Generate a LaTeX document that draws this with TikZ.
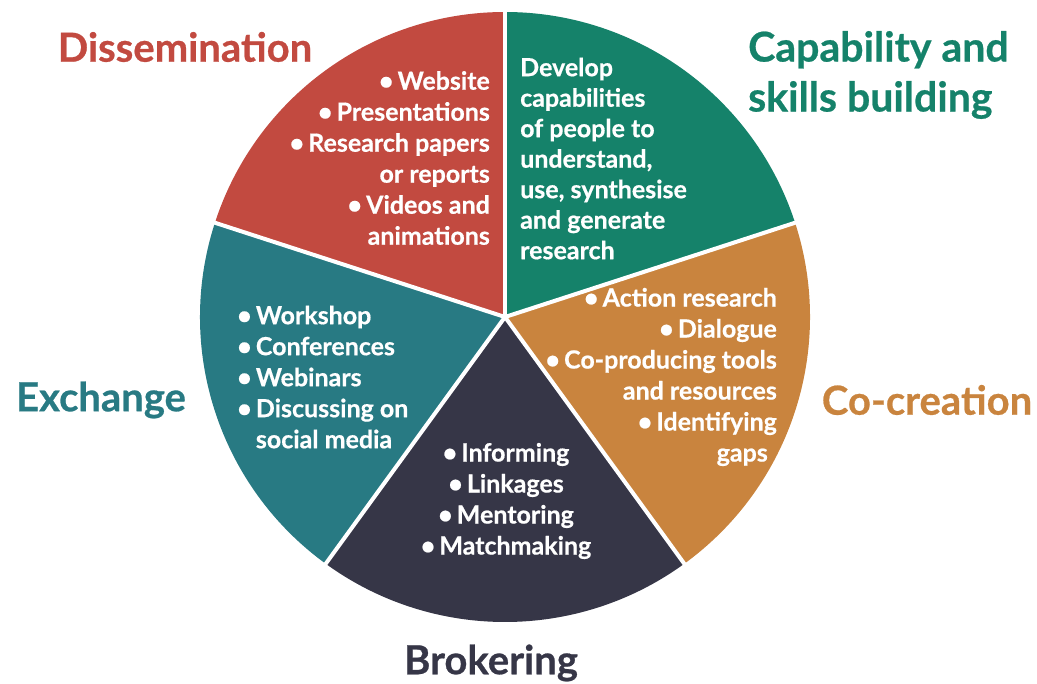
\documentclass[tikz,border=0pt]{standalone}
\usepackage{fontspec}
\setmainfont{Lato}[BoldFeatures={FakeBold=0.6}]
\definecolor{cred}{HTML}{C24A40}
\definecolor{cgreen}{HTML}{15826A}
\definecolor{corange}{HTML}{C9843E}
\definecolor{cnavy}{HTML}{363647}
\definecolor{cteal}{HTML}{287A83}
\tikzset{
  sep/.style={draw=white, line width=4pt},
  body/.style={text=white, font=\bfseries\fontsize{25}{31}\selectfont, inner sep=0pt},
  title/.style={font=\bfseries\fontsize{40}{50}\selectfont, inner sep=0pt},
}
\newcommand{\bul}{\textbullet\,}
\begin{document}
\begin{tikzpicture}[x=1pt,y=-1pt]
\useasboundingbox (0,0) rectangle (1037,684);
\coordinate (c) at (505,317);
\fill[cred] (c) -- ++(90:305pt) arc[start angle=90,end angle=162,radius=305pt] -- cycle;
\fill[cgreen] (c) -- ++(18:305pt) arc[start angle=18,end angle=90,radius=305pt] -- cycle;
\fill[corange] (c) -- ++(-54:305pt) arc[start angle=-54,end angle=18,radius=305pt] -- cycle;
\fill[cnavy] (c) -- ++(-126:305pt) arc[start angle=-126,end angle=-54,radius=305pt] -- cycle;
\fill[cteal] (c) -- ++(162:305pt) arc[start angle=162,end angle=234,radius=305pt] -- cycle;
\foreach \a in {90,18,-54,-126,162} \draw[sep] (c) -- ++(\a:310pt);

\node[body, align=right, anchor=east] (dl) at (490,158) {\bul Website\\ \bul Presentations\\ \bul Research papers\\ or reports\\ \bul Videos and\\ animations};
\node[body, align=left, anchor=west, font=\bfseries\fontsize{25}{30.5}\selectfont] (cl) at (520,158.5) {Develop\\ capabilities\\ of people to\\ understand,\\ use, synthesise\\ and generate\\ research};
\node[body, align=right, anchor=east] (ol) at (777,377) {\bul Action research\\ \bul Dialogue\\ \bul Co-producing tools\\ and resources\\ \bul Identifying\\ gaps\hspace*{9pt}};
\node[body, align=left, anchor=west] (el) at (237,377) {\bul Workshop\\ \bul Conferences\\ \bul Webinars\\ \bul Discussing on\\ \phantom{\bul}social media};
\node[body, align=center] (bl) at (506,501) {\bul Informing\\ \bul Linkages\\ \bul Mentoring\\ \bul Matchmaking};

\node[title, text=cred] (dt) at (185,47) {Dissemination};
\node[title, text=cgreen, align=left, anchor=west, font=\bfseries\fontsize{41}{50}\selectfont] (ct) at (748,75) {Capability and\\ skills building};
\node[title, text=corange] (ot) at (927,400) {Co-creation};
\node[title, text=cteal] (et) at (101,400) {Exchange};
\node[title, text=cnavy] (bt) at (491,663) {Brokering};
\end{tikzpicture}
\end{document}
